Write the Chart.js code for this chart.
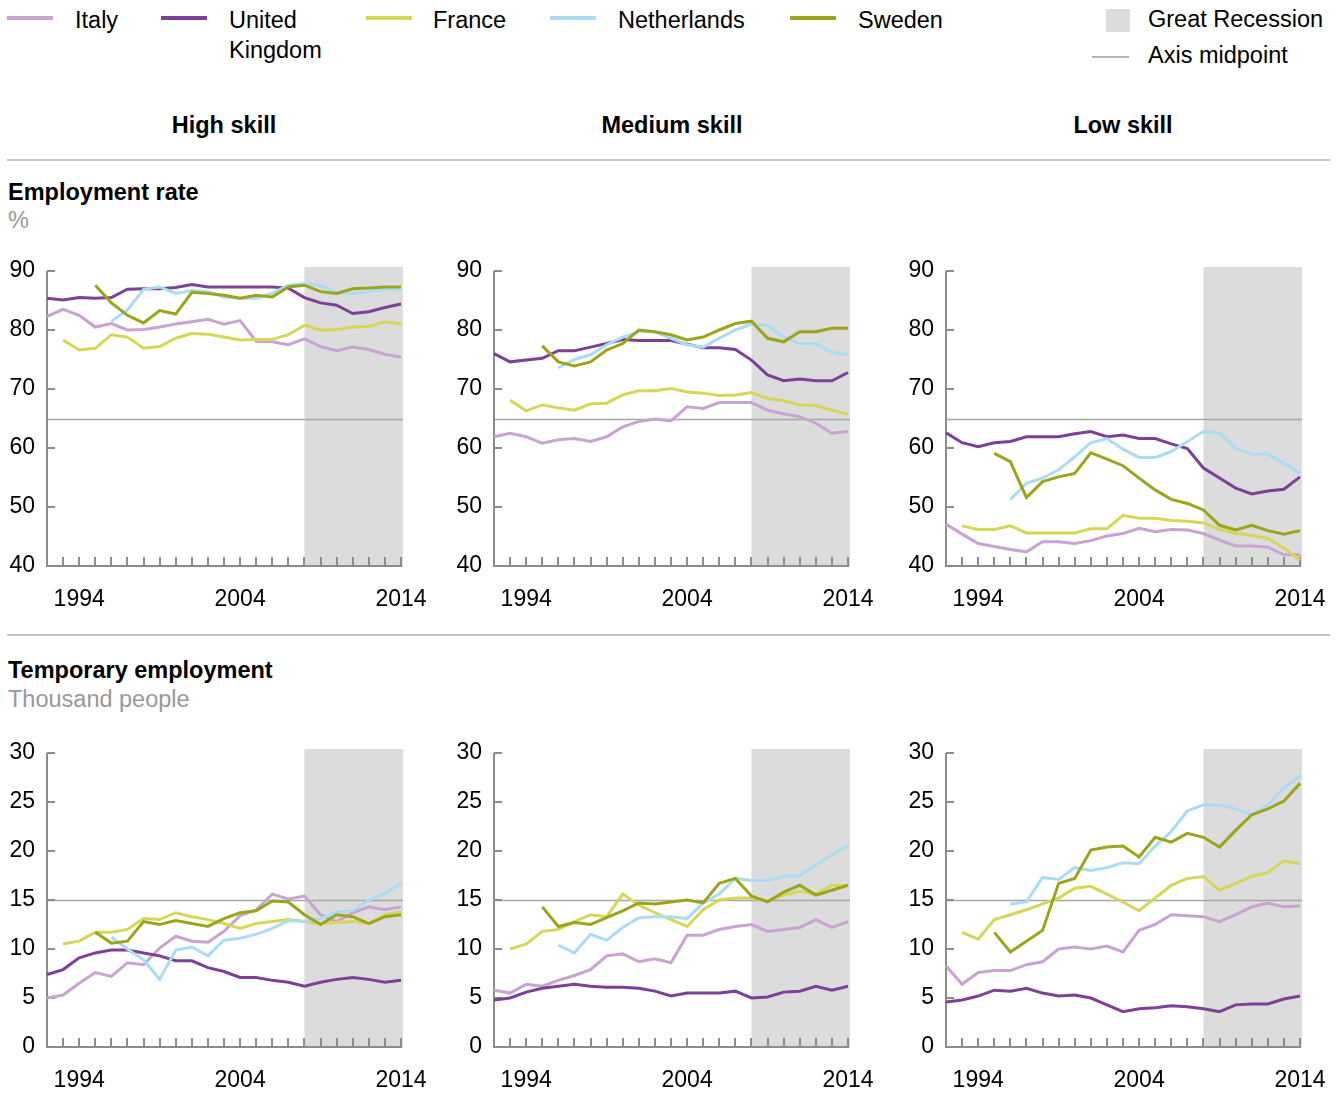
<!DOCTYPE html>
<html>
<head>
<meta charset="utf-8">
<script src="https://cdn.jsdelivr.net/npm/chart.js@4.4.1/dist/chart.umd.min.js"></script>
<style>
  body { margin: 0; background: #fff; font-family: "Liberation Sans", Arial, sans-serif; color: #000; }
  #page { position: relative; width: 1344px; height: 1115px; overflow: hidden; }
  .t { position: absolute; font-size: 23.5px; line-height: 30px; white-space: nowrap; }
  .b { font-weight: bold; }
  .g { color: #999; }
  .c { text-align: center; width: 300px; }
  .sw { position: absolute; top: 16px; width: 46px; height: 4px; }
  .rule { position: absolute; left: 7px; width: 1323px; height: 2px; background: #c4c4c4; }
  canvas { position: absolute; }
</style>
</head>
<body>
<div id="page">
  <!-- legend -->
  <div class="sw" style="left:7px;background:#c9a3d1"></div><div class="t" style="left:75px;top:5px">Italy</div>
  <div class="sw" style="left:161px;background:#7d3f98"></div><div class="t" style="left:229px;top:5px">United<br>Kingdom</div>
  <div class="sw" style="left:366px;background:#d6d757"></div><div class="t" style="left:433px;top:5px">France</div>
  <div class="sw" style="left:550px;background:#a9ddf3"></div><div class="t" style="left:618px;top:5px">Netherlands</div>
  <div class="sw" style="left:790px;background:#9ca51a"></div><div class="t" style="left:858px;top:5px">Sweden</div>
  <div style="position:absolute;left:1106px;top:9px;width:24px;height:23px;background:#dcdcdc"></div>
  <div class="t" style="left:1148px;top:4px">Great Recession</div>
  <div style="position:absolute;left:1092px;top:56px;width:37px;height:2px;background:#b4b4b4"></div>
  <div class="t" style="left:1148px;top:40px">Axis midpoint</div>

  <!-- column heads -->
  <div class="t b c" style="left:74px;top:110px">High skill</div>
  <div class="t b c" style="left:522px;top:110px">Medium skill</div>
  <div class="t b c" style="left:973px;top:110px">Low skill</div>
  <div class="rule" style="top:159px"></div>

  <div class="t b" style="left:8px;top:177px">Employment rate</div>
  <div class="t g" style="left:8px;top:205px">%</div>
  <div class="rule" style="top:634px"></div>
  <div class="t b" style="left:8px;top:655px">Temporary employment</div>
  <div class="t g" style="left:8px;top:684px">Thousand people</div>

  <canvas id="c1"></canvas><canvas id="c2"></canvas><canvas id="c3"></canvas>
  <canvas id="c4"></canvas><canvas id="c5"></canvas><canvas id="c6"></canvas>
</div>

<script>
// === Data ===
const years = [1992, 1993, 1994, 1995, 1996, 1997, 1998, 1999, 2000, 2001, 2002, 2003,
  2004, 2005, 2006, 2007, 2008, 2009, 2010, 2011, 2012, 2013, 2014];
const yearLabels = [1994, 2004, 2014];
const recessionYears = [2008, 2014];
const countries = ["Italy", "United Kingdom", "France", "Netherlands", "Sweden"];
const colors = ["#c9a3d1", "#7d3f98", "#d6d757", "#a9ddf3", "#9ca51a"];

// employment rate, %
const empHighItaly = [82.3, 83.5, 82.5, 80.5, 81.1, 80.0, 80.1, 80.5, 81.0, 81.4, 81.8, 81.0, 81.6, 78.1, 78.0, 77.5, 78.5, 77.2, 76.5, 77.1, 76.7, 75.9, 75.4];
const empHighUK = [85.4, 85.1, 85.5, 85.4, 85.5, 86.9, 87.0, 87.0, 87.2, 87.7, 87.3, 87.3, 87.3, 87.3, 87.3, 87.1, 85.5, 84.6, 84.2, 82.8, 83.1, 83.8, 84.4];
const empHighFrance = [null, 78.3, 76.6, 76.9, 79.2, 78.8, 76.9, 77.2, 78.6, 79.4, 79.3, 78.8, 78.3, 78.4, 78.4, 79.2, 80.8, 80.0, 80.1, 80.5, 80.6, 81.4, 81.0];
const empHighNetherlands = [null, null, null, null, 81.5, 83.4, 86.9, 87.3, 86.2, 86.7, 86.5, 85.6, 85.4, 85.4, 86.2, 87.6, 87.9, 87.5, 86.3, 86.2, 86.5, 86.9, 86.8];
const empHighSweden = [null, null, null, 87.6, 84.6, 82.5, 81.2, 83.3, 82.7, 86.4, 86.2, 85.9, 85.4, 85.9, 85.6, 87.3, 87.6, 86.5, 86.2, 87.0, 87.1, 87.3, 87.3];

const empMedItaly = [61.9, 62.5, 61.9, 60.8, 61.4, 61.6, 61.1, 61.9, 63.6, 64.5, 64.9, 64.6, 67.0, 66.7, 67.7, 67.7, 67.7, 66.4, 65.8, 65.3, 64.2, 62.5, 62.8];
const empMedUK = [76.0, 74.6, 74.9, 75.2, 76.5, 76.5, 77.1, 77.7, 78.4, 78.2, 78.2, 78.2, 77.6, 77.0, 77.0, 76.7, 74.9, 72.4, 71.4, 71.7, 71.4, 71.4, 72.8];
const empMedFrance = [null, 68.1, 66.3, 67.3, 66.8, 66.4, 67.5, 67.6, 69.0, 69.7, 69.7, 70.1, 69.5, 69.3, 68.9, 69.0, 69.4, 68.4, 68.0, 67.3, 67.2, 66.4, 65.7];
const empMedNetherlands = [null, null, null, null, 73.6, 75.0, 75.8, 77.5, 78.8, 79.7, 79.7, 78.6, 77.5, 77.1, 78.6, 80.0, 81.0, 80.8, 78.8, 77.7, 77.7, 76.2, 75.9];
const empMedSweden = [null, null, null, 77.3, 74.6, 73.9, 74.6, 76.6, 77.7, 80.0, 79.7, 79.2, 78.3, 78.8, 80.0, 81.1, 81.5, 78.6, 78.0, 79.7, 79.7, 80.3, 80.3];

const empLowItaly = [47.1, 45.4, 43.8, 43.3, 42.8, 42.4, 44.1, 44.1, 43.8, 44.3, 45.1, 45.5, 46.4, 45.8, 46.2, 46.1, 45.5, 44.4, 43.4, 43.4, 43.2, 41.9, 41.9];
const empLowUK = [62.6, 60.9, 60.2, 60.9, 61.1, 61.9, 61.9, 61.9, 62.4, 62.8, 61.9, 62.2, 61.6, 61.6, 60.7, 59.9, 56.6, 54.9, 53.2, 52.2, 52.7, 53.0, 55.1];
const empLowFrance = [null, 46.8, 46.2, 46.2, 46.8, 45.6, 45.6, 45.6, 45.6, 46.3, 46.3, 48.6, 48.1, 48.1, 47.7, 47.6, 47.3, 46.2, 45.5, 45.2, 44.7, 43.0, 41.0];
const empLowNetherlands = [null, null, null, null, 51.3, 54.0, 54.9, 56.3, 58.5, 60.9, 61.6, 59.8, 58.4, 58.4, 59.4, 61.1, 62.8, 62.5, 59.9, 59.0, 59.0, 57.4, 55.7];
const empLowSweden = [null, null, null, 59.1, 57.7, 51.6, 54.3, 55.1, 55.7, 59.2, 58.1, 57.0, 54.9, 52.9, 51.3, 50.6, 49.5, 46.9, 46.1, 46.9, 46.0, 45.4, 46.0];

// temporary employment, thousand people
const tmpHighItaly = [5.0, 5.3, 6.5, 7.6, 7.2, 8.6, 8.4, 10.1, 11.3, 10.8, 10.7, 11.8, 13.4, 14.0, 15.6, 15.1, 15.4, 13.5, 12.8, 13.7, 14.3, 14.0, 14.3];
const tmpHighUK = [7.4, 7.9, 9.1, 9.6, 9.9, 9.9, 9.6, 9.3, 8.8, 8.8, 8.1, 7.7, 7.1, 7.1, 6.8, 6.6, 6.2, 6.6, 6.9, 7.1, 6.9, 6.6, 6.8];
const tmpHighFrance = [null, 10.5, 10.8, 11.7, 11.7, 12.0, 13.1, 13.0, 13.7, 13.3, 13.0, 12.6, 12.1, 12.6, 12.8, 13.0, 12.8, 12.6, 12.7, 12.8, 12.6, 13.5, 13.8];
const tmpHighNetherlands = [null, null, null, null, 11.2, 10.0, 8.9, 6.9, 9.9, 10.2, 9.3, 10.9, 11.1, 11.5, 12.1, 12.9, 12.8, 13.1, 13.8, 13.9, 15.0, 15.7, 16.7];
const tmpHighSweden = [null, null, null, 11.7, 10.6, 10.8, 12.8, 12.5, 12.9, 12.6, 12.3, 13.1, 13.7, 13.9, 14.9, 14.8, 13.5, 12.5, 13.5, 13.3, 12.6, 13.3, 13.5];

const tmpMedItaly = [5.8, 5.5, 6.4, 6.2, 6.8, 7.3, 7.9, 9.3, 9.5, 8.7, 9.0, 8.6, 11.4, 11.4, 12.0, 12.3, 12.5, 11.8, 12.0, 12.2, 13.0, 12.2, 12.8];
const tmpMedUK = [4.8, 5.0, 5.6, 6.0, 6.2, 6.4, 6.2, 6.1, 6.1, 6.0, 5.7, 5.2, 5.5, 5.5, 5.5, 5.7, 5.0, 5.1, 5.6, 5.7, 6.2, 5.8, 6.2];
const tmpMedFrance = [null, 10.0, 10.5, 11.8, 12.0, 12.8, 13.5, 13.3, 15.6, 14.5, 13.7, 13.0, 12.3, 14.0, 15.0, 15.2, 15.2, 14.9, 15.5, 15.9, 15.6, 16.5, 16.5];
const tmpMedNetherlands = [null, null, null, null, 10.4, 9.6, 11.5, 10.9, 12.2, 13.2, 13.3, 13.3, 13.1, 14.7, 15.6, 17.2, 17.0, 17.0, 17.4, 17.5, 18.6, 19.6, 20.6];
const tmpMedSweden = [null, null, null, 14.3, 12.3, 12.7, 12.5, 13.2, 13.9, 14.7, 14.6, 14.8, 15.0, 14.7, 16.7, 17.2, 15.4, 14.8, 15.8, 16.5, 15.5, 16.0, 16.5];

const tmpLowItaly = [8.3, 6.4, 7.6, 7.8, 7.8, 8.4, 8.7, 10.0, 10.2, 10.0, 10.3, 9.7, 11.9, 12.5, 13.5, 13.4, 13.3, 12.8, 13.5, 14.3, 14.7, 14.3, 14.4];
const tmpLowUK = [4.6, 4.8, 5.2, 5.8, 5.7, 6.0, 5.5, 5.2, 5.3, 5.0, 4.3, 3.6, 3.9, 4.0, 4.2, 4.1, 3.9, 3.6, 4.3, 4.4, 4.4, 4.9, 5.2];
const tmpLowFrance = [null, 11.7, 11.0, 13.0, 13.5, 14.0, 14.6, 15.2, 16.2, 16.4, 15.6, 14.8, 13.9, 15.2, 16.5, 17.2, 17.4, 16.0, 16.7, 17.4, 17.8, 19.0, 18.7];
const tmpLowNetherlands = [null, null, null, null, 14.6, 14.8, 17.3, 17.1, 18.3, 18.0, 18.3, 18.8, 18.7, 20.5, 22.0, 24.1, 24.7, 24.7, 24.3, 23.7, 24.7, 26.4, 27.7];
const tmpLowSweden = [null, null, null, 11.7, 9.7, 10.8, 11.9, 16.7, 17.2, 20.1, 20.4, 20.5, 19.4, 21.4, 20.9, 21.8, 21.4, 20.4, 22.1, 23.7, 24.3, 25.1, 26.9];

// === Layout ===
const FONT = '"Liberation Sans", Arial, sans-serif';
const PLOT_W = 354, AXIS_W = 47, PAD_TOP = 16, PAD_RIGHT = 36, X_AXIS_H = 52;

// shading, midpoint line and the inward tick marks
const deco = {
  id: "deco",
  beforeDatasetsDraw(chart, args, opts) {
    const { ctx, chartArea: a, scales: { x, y } } = chart;
    ctx.save();
    const x0 = x.getPixelForValue(recessionYears[0]);
    const x1 = x.getPixelForValue(recessionYears[1]);
    ctx.fillStyle = "#dcdcdc";
    ctx.fillRect(x0, a.top - 4, x1 - x0 + 2, a.bottom - a.top + 5);

    const line = (ax, ay, bx, by) => { ctx.beginPath(); ctx.moveTo(ax, ay); ctx.lineTo(bx, by); ctx.stroke(); };

    const ym = Math.round(y.getPixelForValue(opts.mid)) + 0.5;
    ctx.strokeStyle = "#a8a8a8";
    ctx.lineWidth = 1.5;
    line(a.left, ym, a.right + 2, ym);

    ctx.strokeStyle = "#8c8c8c";
    ctx.lineWidth = 2;
    line(a.left, a.top, a.left, a.bottom + 1);
    line(a.left - 1, a.bottom, a.right + 1, a.bottom);
    y.ticks.forEach((t) => {
      const yy = Math.round(y.getPixelForValue(t.value));
      line(a.left, yy, a.left + 8, yy);
    });
    years.slice(1).forEach((yr) => {
      const xx = Math.round(x.getPixelForValue(yr));
      line(xx, a.bottom, xx, a.bottom - 9);
    });
    ctx.restore();
  },
};

function makePanel(id, plotLeft, plotTop, plotH, yMin, yMax, yStep, mid, series) {
  const cv = document.getElementById(id);
  const w = AXIS_W + PLOT_W + PAD_RIGHT;
  const h = PAD_TOP + plotH + X_AXIS_H;
  cv.width = w; cv.height = h;
  cv.style.width = w + "px"; cv.style.height = h + "px";
  cv.style.left = (plotLeft - AXIS_W) + "px";
  cv.style.top = (plotTop - PAD_TOP) + "px";

  new Chart(cv, {
    type: "line",
    data: {
      datasets: series.map((vals, i) => ({
        label: countries[i],
        data: years.map((yr, j) => ({ x: yr, y: vals[j] })),
        borderColor: colors[i],
        borderWidth: 3,
        pointRadius: 0,
        tension: 0,
        fill: false,
        clip: false,
        order: 5 - i,
      })),
    },
    options: {
      responsive: false,
      animation: false,
      devicePixelRatio: 1,
      layout: { padding: { top: PAD_TOP, right: PAD_RIGHT, left: 0, bottom: 0 } },
      plugins: { legend: { display: false }, tooltip: { enabled: false }, deco: { mid: mid } },
      scales: {
        x: {
          type: "linear",
          min: years[0],
          max: years[years.length - 1],
          grid: { display: false, drawTicks: false },
          border: { display: false },
          afterBuildTicks: (s) => { s.ticks = yearLabels.map((v) => ({ value: v })); },
          afterFit: (s) => { s.height = X_AXIS_H; s.paddingLeft = 0; s.paddingRight = 0; },
          ticks: { autoSkip: false, maxRotation: 0, padding: 20, color: "#000",
                   font: { family: FONT, size: 23 }, callback: (v) => String(v) },
        },
        y: {
          min: yMin,
          max: yMax,
          grid: { display: false, drawTicks: false },
          border: { display: false },
          afterFit: (s) => { s.width = AXIS_W; s.paddingTop = 0; s.paddingBottom = 0; },
          ticks: { stepSize: yStep, padding: 12, color: "#000", font: { family: FONT, size: 23 } },
        },
      },
    },
    plugins: [deco],
  });
}

makePanel("c1", 47, 271, 295, 40, 90, 10, 65, [empHighItaly, empHighUK, empHighFrance, empHighNetherlands, empHighSweden]);
makePanel("c2", 494, 271, 295, 40, 90, 10, 65, [empMedItaly, empMedUK, empMedFrance, empMedNetherlands, empMedSweden]);
makePanel("c3", 946, 271, 295, 40, 90, 10, 65, [empLowItaly, empLowUK, empLowFrance, empLowNetherlands, empLowSweden]);
makePanel("c4", 47, 753, 294, 0, 30, 5, 15, [tmpHighItaly, tmpHighUK, tmpHighFrance, tmpHighNetherlands, tmpHighSweden]);
makePanel("c5", 494, 753, 294, 0, 30, 5, 15, [tmpMedItaly, tmpMedUK, tmpMedFrance, tmpMedNetherlands, tmpMedSweden]);
makePanel("c6", 946, 753, 294, 0, 30, 5, 15, [tmpLowItaly, tmpLowUK, tmpLowFrance, tmpLowNetherlands, tmpLowSweden]);
</script>
</body>
</html>
